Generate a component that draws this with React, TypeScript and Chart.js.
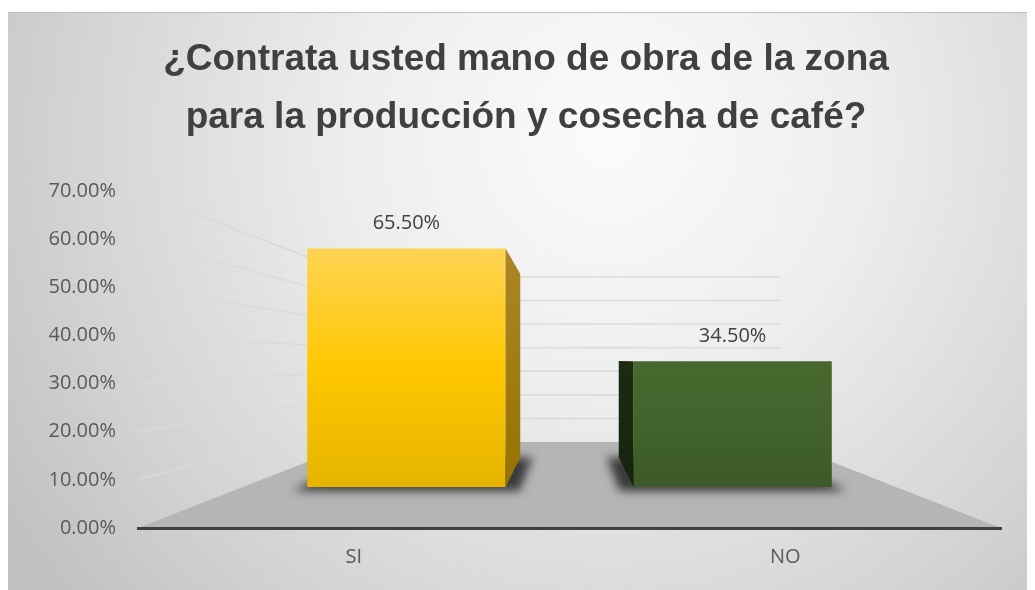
import React, { useEffect, useRef } from 'react';
import { Chart, registerables } from 'chart.js';

Chart.register(...registerables);

// ---- data ----
const TITLE_LINES = ['¿Contrata usted mano de obra de la zona', 'para la producción y cosecha de café?'];
const CATEGORIES = ['SI', 'NO'];
const VALUES = [0.655, 0.345];
const Y_MIN = 0;
const Y_MAX = 0.7;
const Y_STEP = 0.1;

// ---- styles ----
const FRONT_TOP = ['#FFD454', '#47692F'];
const FRONT_MID = ['#FFC700', '#42632C'];
const FRONT_BOTTOM = ['#E6B400', '#3C5A27'];
const SIDE_TOP = ['#AD8626', '#1C2B10'];
const SIDE_BOTTOM = ['#957200', '#16240C'];

// perspective factors (scale about the plot centre)
const K_BACK = 0.49; // back wall
const K_BAR = 0.756; // plane of the bar fronts
const BAR_DEPTH = 0.77; // bar back faces relative to the bar plane

const TICK_FONT = { family: '"Open Sans", "DejaVu Sans", sans-serif', size: 20 };
const pct = (v: number) => (v * 100).toFixed(2) + '%';

const scenePlugin = {
  id: 'scene',
  beforeDraw(chart: any) {
    const { ctx, chartArea: a, width, height } = chart;
    const cx = (a.left + a.right) / 2;
    const cy = (a.top + a.bottom) / 2;
    const P = (x: number, y: number, k: number) => [cx + (x - cx) * k, cy + (y - cy) * k];
    ctx.save();
    // background
    const g = ctx.createRadialGradient(600, 130, 0, 600, 130, 720);
    g.addColorStop(0, '#fbfbfb');
    g.addColorStop(0.35, '#eeeeee');
    g.addColorStop(0.75, '#d3d3d3');
    g.addColorStop(1, '#c0c0c0');
    ctx.fillStyle = g;
    ctx.fillRect(0, 4, width, height - 4);
    ctx.strokeStyle = '#bdbdbd';
    ctx.lineWidth = 1;
    ctx.beginPath();
    ctx.moveTo(0, 4.5);
    ctx.lineTo(width, 4.5);
    ctx.stroke();

    // floor
    const ys = chart.scales.y;
    const y0 = ys.getPixelForValue(Y_MIN);
    const [blx, bly] = P(a.left, y0, K_BACK);
    const [brx] = P(a.right, y0, K_BACK);
    ctx.fillStyle = '#b5b5b5';
    ctx.beginPath();
    ctx.moveTo(a.left, y0);
    ctx.lineTo(a.right, y0);
    ctx.lineTo(brx, bly);
    ctx.lineTo(blx, bly);
    ctx.closePath();
    ctx.fill();

    // wall grid lines
    ctx.strokeStyle = '#dadada';
    ctx.lineWidth = 1.5;
    ys.ticks.forEach((t: any) => {
      if (t.value === Y_MIN) return;
      const yf = ys.getPixelForValue(t.value);
      const [bx, by] = P(a.left, yf, K_BACK);
      const [rx] = P(a.right, yf, K_BACK);
      ctx.beginPath();
      ctx.moveTo(a.left, yf);
      ctx.lineTo(bx, by);
      ctx.lineTo(rx, by);
      ctx.stroke();
    });

    // shadows under the bars
    const meta = chart.getDatasetMeta(0);
    ctx.filter = 'blur(5px)';
    ctx.fillStyle = 'rgba(45,45,45,0.9)';
    meta.data.forEach((el: any) => {
      const { x, base, width: w } = el.getProps(['x', 'base', 'width'], true);
      const L = x - w / 2;
      const R = x + w / 2;
      const [bl, bb] = P(L, base, BAR_DEPTH);
      const [br] = P(R, base, BAR_DEPTH);
      ctx.beginPath();
      ctx.moveTo(L - 14, base + 4);
      ctx.lineTo(R + 14, base + 4);
      ctx.lineTo(br + 12, bb);
      ctx.lineTo(bl - 12, bb);
      ctx.closePath();
      ctx.fill();
    });
    ctx.filter = 'none';
    ctx.restore();
  },
  afterDatasetsDraw(chart: any) {
    const { ctx, chartArea: a } = chart;
    const cx = (a.left + a.right) / 2;
    const cy = (a.top + a.bottom) / 2;
    const P = (x: number, y: number, k: number) => [cx + (x - cx) * k, cy + (y - cy) * k];
    const meta = chart.getDatasetMeta(0);
    ctx.save();
    meta.data.forEach((el: any, i: number) => {
      const { x, y, base, width: w } = el.getProps(['x', 'y', 'base', 'width'], true);
      const edge = x < cx ? x + w / 2 : x - w / 2;
      const [ex1, ey1] = P(edge, y, BAR_DEPTH);
      const [ex2, ey2] = P(edge, base, BAR_DEPTH);
      const sg = ctx.createLinearGradient(0, y, 0, base);
      sg.addColorStop(0, SIDE_TOP[i]);
      sg.addColorStop(1, SIDE_BOTTOM[i]);
      ctx.fillStyle = sg;
      ctx.beginPath();
      ctx.moveTo(edge, y);
      ctx.lineTo(ex1, ey1);
      ctx.lineTo(ex2, ey2);
      ctx.lineTo(edge, base);
      ctx.closePath();
      ctx.fill();

      // value label
      ctx.fillStyle = '#404040';
      ctx.font = `${TICK_FONT.size}px ${TICK_FONT.family}`;
      ctx.textAlign = 'center';
      ctx.textBaseline = 'middle';
      ctx.fillText(pct(VALUES[i]), x, y - 25);
    });
    ctx.restore();
  },
};

function makeConfig(): any {
  const yMid = (Y_MIN + Y_MAX) / 2;
  const yHalf = (Y_MAX - Y_MIN) / 2;
  const xMid = (CATEGORIES.length - 1) / 2;
  const xHalf = CATEGORIES.length / 2;
  return {
    type: 'bar',
    data: {
      labels: CATEGORIES,
      datasets: [
        {
          data: VALUES.map((v, i) => ({ x: i, y: v })),
          xAxisID: 'xb',
          yAxisID: 'yb',
          borderWidth: 0,
          barPercentage: 0.608,
          categoryPercentage: 1,
          backgroundColor: (c: any) => {
            const chart = c.chart;
            const i = c.dataIndex;
            if (!chart.chartArea || !chart.scales.yb) return FRONT_MID[i];
            const yb = chart.scales.yb;
            const top = yb.getPixelForValue(VALUES[i]);
            const bot = yb.getPixelForValue(0);
            const g = chart.ctx.createLinearGradient(0, top, 0, bot);
            g.addColorStop(0, FRONT_TOP[i]);
            g.addColorStop(0.5, FRONT_MID[i]);
            g.addColorStop(1, FRONT_BOTTOM[i]);
            return g;
          },
        },
      ],
    },
    options: {
      responsive: false,
      maintainAspectRatio: false,
      animation: false,
      layout: { padding: { left: 9, right: 0, top: 0, bottom: 0 } },
      plugins: {
        legend: { display: false },
        tooltip: { enabled: false },
        title: {
          display: true,
          text: TITLE_LINES,
          color: '#404040',
          font: { family: '"Liberation Sans", Arial, sans-serif', size: 37, weight: 'bold', lineHeight: 1.5676 },
          padding: { top: 23, bottom: 44 },
        },
      },
      scales: {
        x: {
          type: 'category',
          position: 'bottom',
          offset: true,
          grid: { display: false, drawTicks: false },
          border: { display: true, color: '#404040', width: 3 },
          ticks: { padding: 17, color: '#595959', font: TICK_FONT },
          afterFit: (s: any) => {
            s.height = 62;
          },
        },
        y: {
          type: 'linear',
          position: 'left',
          min: Y_MIN,
          max: Y_MAX,
          grid: { display: false, drawTicks: false },
          border: { display: false },
          ticks: {
            stepSize: Y_STEP,
            padding: 22,
            color: '#595959',
            font: TICK_FONT,
            callback: (v: any) => pct(Number(v)),
          },
          afterFit: (s: any) => {
            s.width = 121;
          },
        },
        xb: {
          type: 'linear',
          display: false,
          offset: false,
          grid: { offset: false },
          min: xMid - xHalf / K_BAR,
          max: xMid + xHalf / K_BAR,
          ticks: { stepSize: 1, includeBounds: false },
        },
        yb: {
          type: 'linear',
          display: true,
          position: 'right',
          grid: { display: false, drawTicks: false },
          border: { display: false },
          ticks: { display: false },
          min: yMid - yHalf / K_BAR,
          max: yMid + yHalf / K_BAR,
          afterFit: (s: any) => {
            s.width = 34;
          },
        },
      },
    },
    plugins: [scenePlugin],
  };
}

export default function App() {
  const ref = useRef<HTMLCanvasElement>(null);
  useEffect(() => {
    const chart = new Chart(ref.current as HTMLCanvasElement, makeConfig());
    return () => chart.destroy();
  }, []);
  return (
    <div style={{ width: 1027, height: 582 }}>
      <canvas ref={ref} width={1027} height={582} style={{ display: 'block' }} />
    </div>
  );
}
